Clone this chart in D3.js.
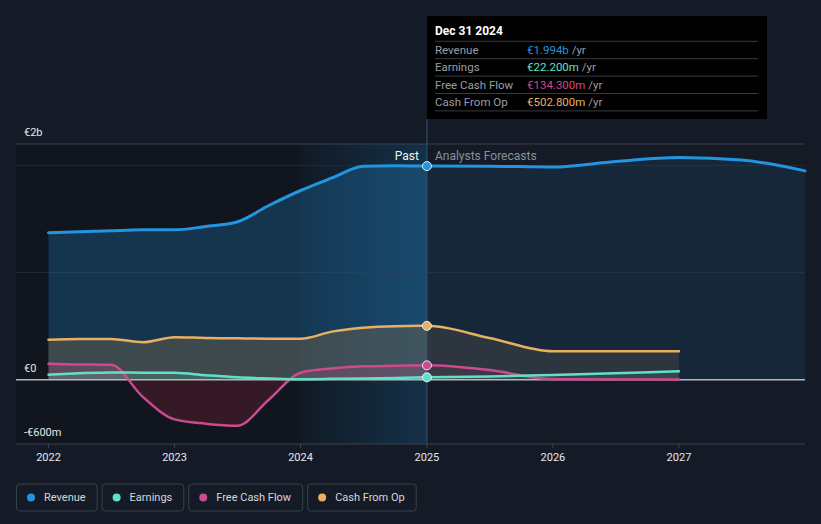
<!DOCTYPE html>
<html><head><meta charset="utf-8">
<script src="https://cdn.jsdelivr.net/npm/d3@7"></script>
<style>
body{margin:0;background:#151b26;}
svg{display:block;font-family:Roboto,"Noto Sans",sans-serif;}
</style>
</head><body>
<svg id="c" width="821" height="524"></svg>
<script>
// ---------- data (values in € billions) ----------
const pastDates = ["2022-01-01","2022-04-01","2022-07-01","2022-10-01","2023-01-01","2023-04-01","2023-07-01","2023-10-01","2024-01-01","2024-04-01","2024-07-01","2024-10-01","2025-01-01"];
const revenuePast  = [1.371,1.380,1.390,1.399,1.399,1.430,1.472,1.626,1.766,1.883,1.993,1.997,1.994];
const earningsPast = [0.047,0.060,0.068,0.066,0.065,0.042,0.022,0.012,0.005,0.008,0.012,0.017,0.0222];
const fcfPast      = [0.150,0.142,0.140,-0.160,-0.370,-0.410,-0.430,-0.187,0.065,0.105,0.125,0.130,0.1343];
const cfoPast      = [0.374,0.379,0.380,0.350,0.397,0.390,0.386,0.383,0.383,0.449,0.486,0.500,0.5028];

const revenueForecastDates = ["2025-07-01","2026-01-01","2026-07-01","2027-01-01","2027-07-01","2028-01-01"];
const revenueForecast = [1.993,1.985,2.037,2.075,2.051,1.949];
const otherForecastDates = ["2025-07-01","2026-01-01","2027-01-01"];
const earningsForecast = [0.030,0.045,0.078];
const fcfForecast      = [0.090,0.005,0.003];
const cfoForecast      = [0.390,0.265,0.265];

const xTickYears = [2022,2023,2024,2025,2026,2027];
const yTickValues = [2.2,0,-0.6];
const yTickLabels = ["€2b","€0","-€600m"];
const gridValues = [2,1];

const seriesNames = ["Revenue","Earnings","Free Cash Flow","Cash From Op"];
const seriesColors = ["#2394df","#62e0c6","#cc4a8e","#e8b062"];

const tooltipDate = "Dec 31 2024";
const tooltipValues = ["€1.994b","€22.200m","€134.300m","€502.800m"];

// ---------- setup ----------
const svg = d3.select("#c");
const W = 821, H = 524;
const parse = d3.timeParse("%Y-%m-%d");
const x = d3.scaleTime().domain([new Date(2022,0,1), new Date(2028,0,1)]).range([48.5, 805]);
const y = d3.scaleLinear().domain([-0.6, 2.2]).range([444, 144]);
const left = 16, right = 805;
const nowDate = new Date(2025,0,1);
const xNow = x(nowDate);
const xBand = x(new Date(2024,0,1));

function build(dates, vals, fDates, fVals){
  const a = dates.map((d,i)=>({d:parse(d), v:vals[i]}));
  const b = fDates.map((d,i)=>({d:parse(d), v:fVals[i]}));
  return a.concat(b);
}
const series = [
  build(pastDates, revenuePast, revenueForecastDates, revenueForecast),
  build(pastDates, earningsPast, otherForecastDates, earningsForecast),
  build(pastDates, fcfPast, otherForecastDates, fcfForecast),
  build(pastDates, cfoPast, otherForecastDates, cfoForecast)
];

const defs = svg.append("defs");
defs.append("clipPath").attr("id","clipPast").append("rect")
  .attr("x",0).attr("y",0).attr("width",xNow).attr("height",H);
defs.append("clipPath").attr("id","clipFut").append("rect")
  .attr("x",xNow).attr("y",0).attr("width",W-xNow).attr("height",H);
const bg = defs.append("linearGradient").attr("id","band").attr("x1","0").attr("x2","1").attr("y1","0").attr("y2","0");
bg.append("stop").attr("offset","0").attr("stop-color","#2394df").attr("stop-opacity",0.04);
bg.append("stop").attr("offset","1").attr("stop-color","#2394df").attr("stop-opacity",0.22);
const fg = defs.append("linearGradient").attr("id","fcfGrad").attr("gradientUnits","userSpaceOnUse")
  .attr("x1",0).attr("x2",0).attr("y1",y(0.3)).attr("y2",y(-0.6));
const zOff = (y(0)-y(0.3))/(y(-0.6)-y(0.3));
fg.append("stop").attr("offset",0).attr("stop-color","#cc4a8e");
fg.append("stop").attr("offset",zOff).attr("stop-color","#cc4a8e");
fg.append("stop").attr("offset",zOff).attr("stop-color","#b8283f");
fg.append("stop").attr("offset",1).attr("stop-color","#b8283f");

// page background
svg.append("rect").attr("width",W).attr("height",H).attr("fill","#151b26");
// darker past region
svg.append("rect").attr("x",left).attr("y",y(2.2)).attr("width",xNow-left).attr("height",y(-0.6)-y(2.2))
  .attr("fill","#000").attr("opacity",0.2);
// highlighted last-year band
svg.append("rect").attr("x",xBand).attr("y",y(2.2)).attr("width",xNow-xBand).attr("height",y(-0.6)-y(2.2))
  .attr("fill","url(#band)");

// grid lines
svg.selectAll(".grid").data(gridValues).enter().append("line")
  .attr("x1",left).attr("x2",right).attr("y1",d=>y(d)).attr("y2",d=>y(d))
  .attr("stroke","#222a35").attr("stroke-width",1);
svg.append("line").attr("x1",left).attr("x2",right).attr("y1",y(2.2)).attr("y2",y(2.2))
  .attr("stroke","#3a4049").attr("stroke-width",1);

// ---------- areas ----------
const area = d3.area().x(d=>x(d.d)).y0(y(0)).y1(d=>y(d.v)).curve(d3.curveMonotoneX);
const line = d3.line().x(d=>x(d.d)).y(d=>y(d.v)).curve(d3.curveMonotoneX);

const areaStyles = [
  {i:0, fill:"#2394df", past:0.25, fut:0.10},
  {i:3, fill:"#706450", past:0.45, fut:0.26},
  {i:2, fill:"url(#fcfGrad)", past:0.22, fut:0.10},
  {i:1, fill:"#5ee3c8", past:0.18, fut:0.10}
];
areaStyles.forEach(s=>{
  svg.append("path").attr("d",area(series[s.i])).attr("fill",s.fill).attr("opacity",s.past).attr("clip-path","url(#clipPast)");
  svg.append("path").attr("d",area(series[s.i])).attr("fill",s.fill).attr("opacity",s.fut).attr("clip-path","url(#clipFut)");
});

// zero line
svg.append("line").attr("x1",left).attr("x2",right).attr("y1",y(0)).attr("y2",y(0))
  .attr("stroke","#b4b8bd").attr("stroke-width",1.5);

// lines
[0,3,2,1].forEach(i=>{
  svg.append("path").attr("d",line(series[i])).attr("fill","none")
    .attr("stroke",seriesColors[i]).attr("stroke-width",i===0?3:2.5).attr("stroke-linecap","round");
});

// vertical "now" line
svg.append("line").attr("x1",xNow).attr("x2",xNow).attr("y1",119).attr("y2",y(-0.6))
  .attr("stroke","#35536f").attr("stroke-width",1);

// dots at now
series.forEach((s,i)=>{
  const p = s.find(d=>+d.d===+nowDate);
  svg.append("circle").attr("cx",x(p.d)).attr("cy",y(p.v)).attr("r",4.5)
    .attr("fill",seriesColors[i]).attr("stroke","#e8eef4").attr("stroke-width",1);
});

// bottom axis
svg.append("line").attr("x1",left).attr("x2",right).attr("y1",y(-0.6)).attr("y2",y(-0.6))
  .attr("stroke","#3d434c").attr("stroke-width",1);
const xAxis = svg.append("g");
xTickYears.forEach(yr=>{
  const xx = x(new Date(yr,0,1));
  xAxis.append("line").attr("x1",xx).attr("x2",xx).attr("y1",y(-0.6)).attr("y2",y(-0.6)+4).attr("stroke","#3d434c");
  xAxis.append("text").attr("x",xx).attr("y",461).attr("text-anchor","middle")
    .attr("fill","#e6e8eb").attr("font-size",11).text(yr);
});

// y labels
yTickValues.forEach((v,i)=>{
  svg.append("text").attr("x",24).attr("y",y(v)-8).attr("fill","#e6e8eb").attr("font-size",11).text(yTickLabels[i]);
});

// past / forecast labels
svg.append("text").attr("x",xNow-8).attr("y",160).attr("text-anchor","end").attr("fill","#f0f2f4").attr("font-size",12).text("Past");
svg.append("text").attr("x",xNow+8).attr("y",160).attr("fill","#8a9099").attr("font-size",12).text("Analysts Forecasts");

// ---------- tooltip ----------
const tt = svg.append("g");
tt.append("rect").attr("x",427).attr("y",16).attr("width",340).attr("height",103).attr("fill","#000");
tt.append("text").attr("x",435).attr("y",35).attr("fill","#fff").attr("font-size",12).attr("font-weight","bold").text(tooltipDate);
const rowTop = 41.3, rowH = 17.4;
for(let k=0;k<5;k++){
  tt.append("line").attr("x1",435).attr("x2",758).attr("y1",rowTop+k*rowH).attr("y2",rowTop+k*rowH)
    .attr("stroke","#3a3a3a").attr("stroke-width",1);
}
seriesNames.forEach((n,i)=>{
  const by = rowTop + i*rowH + 12.5;
  tt.append("text").attr("x",435).attr("y",by).attr("fill","#9a9ea5").attr("font-size",11.5).text(n);
  const t = tt.append("text").attr("x",527).attr("y",by).attr("font-size",11.5);
  t.append("tspan").attr("fill",seriesColors[i]).text(tooltipValues[i]);
  t.append("tspan").attr("fill","#9a9ea5").text(" /yr");
});

// ---------- legend ----------
let lx = 16;
seriesNames.forEach((n,i)=>{
  const g = svg.append("g");
  const box = g.append("rect").attr("y",484).attr("height",27).attr("rx",3)
    .attr("fill","none").attr("stroke","#3a4049").attr("stroke-width",1);
  const txt = g.append("text").attr("x",lx+28).attr("y",501).attr("fill","#d4d7dc").attr("font-size",11).text(n);
  const tw = txt.node().getComputedTextLength();
  g.append("circle").attr("cx",lx+15).attr("cy",497.5).attr("r",4).attr("fill",seriesColors[i]);
  const bw = tw + 39;
  box.attr("x",lx+0.5).attr("width",bw);
  lx += bw + 5;
});
</script>
</body></html>
